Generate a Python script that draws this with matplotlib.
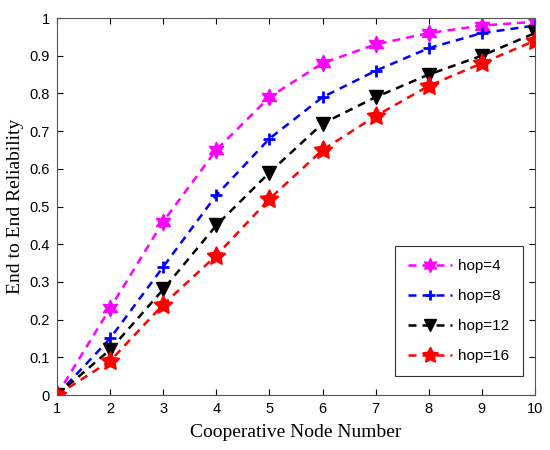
import numpy as np
import matplotlib.pyplot as plt

# Données
nodes = [1, 2, 3, 4, 5, 6, 7, 8, 9, 10]
hop4 = [0, 0.23, 0.46, 0.65, 0.79, 0.88, 0.93, 0.96, 0.98, 0.99]
hop8 = [0, 0.15, 0.34, 0.53, 0.68, 0.79, 0.86, 0.92, 0.96, 0.98]
hop12 = [0, 0.12, 0.28, 0.45, 0.59, 0.72, 0.79, 0.85, 0.90, 0.96]
hop16 = [0, 0.09, 0.24, 0.37, 0.52, 0.65, 0.74, 0.82, 0.88, 0.94]
labels = ['hop=4', 'hop=8', 'hop=12', 'hop=16']

fig = plt.figure(figsize=(5.5, 4.5), dpi=100)
ax = fig.add_axes([0.1036, 0.1222, 0.8691, 0.8378])

dash = (3.2, 2.4)
ax.plot(nodes, hop4, '--', color='magenta', lw=1.8, dashes=dash, marker=(6, 1, 0), ms=12, label=labels[0])
ax.plot(nodes, hop8, '--', color='blue', lw=1.8, dashes=dash, marker='+', ms=9, mew=2, label=labels[1])
ax.plot(nodes, hop12, '--', color='black', lw=1.8, dashes=dash, marker='v', ms=10, label=labels[2])
ax.plot(nodes, hop16, '--', color='red', lw=1.8, dashes=dash, marker=(5, 1, 0), ms=14, label=labels[3])

ax.set_xlim(1, 10)
ax.set_ylim(0, 1)
ax.set_xticks(nodes)
ax.set_yticks(np.arange(0, 1.01, 0.1))
ax.set_yticklabels(['0', '0.1', '0.2', '0.3', '0.4', '0.5', '0.6', '0.7', '0.8', '0.9', '1'])
ax.tick_params(direction='in', top=True, right=True, labelsize=10.5, length=4, pad=5)
for lbl in ax.get_xticklabels() + ax.get_yticklabels():
    lbl.set_family('Liberation Sans')
for s in ax.spines.values():
    s.set_color('#555555')

ax.set_xlabel('Cooperative Node Number', family='Liberation Serif', fontsize=14, labelpad=6)
ax.set_ylabel('End to End Reliability', family='Liberation Serif', fontsize=14)

leg = ax.legend(loc='lower right', bbox_to_anchor=(0.99, 0.03), fancybox=False,
                edgecolor='#333333', framealpha=1, prop={'family': 'Liberation Sans', 'size': 11},
                labelspacing=1.05, handlelength=2.9, handletextpad=0.4, borderpad=0.85,
                markerscale=0.85)
leg.get_frame().set_linewidth(0.8)

fig.savefig('out.png', dpi=100)
